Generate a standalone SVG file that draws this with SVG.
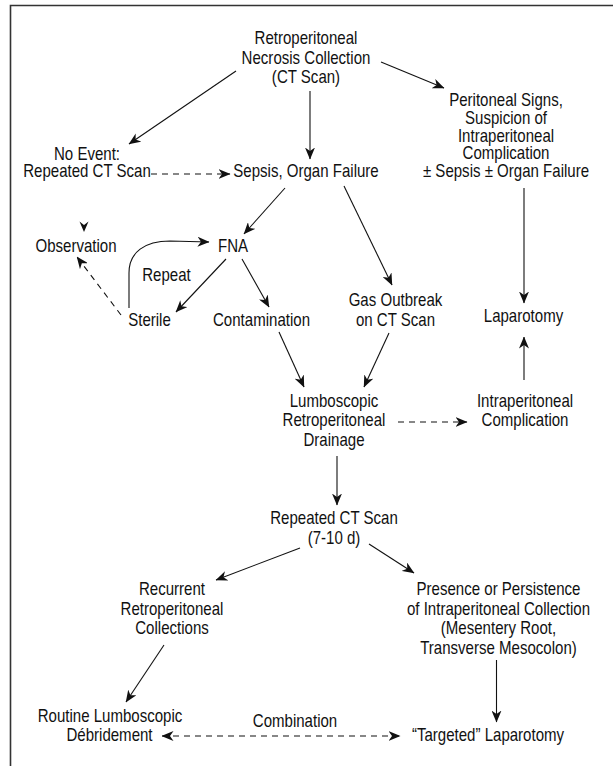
<svg xmlns="http://www.w3.org/2000/svg" width="613" height="766" viewBox="0 0 613 766">
<defs>
<style>
text{font-family:"Liberation Sans",Arial,sans-serif;font-size:17.5px;fill:#111;text-anchor:middle}
.c{fill:none;stroke:#111;stroke-width:1.1}
.a{marker-end:url(#ah)}
.d{stroke-dasharray:6 5}
.frame{fill:none;stroke:#333;stroke-width:1.6}
</style>
<marker id="ah" viewBox="0 0 12 10" refX="11.5" refY="5" markerWidth="12" markerHeight="10" markerUnits="userSpaceOnUse" orient="auto-start-reverse">
<path d="M0,0 L12,5 L0,10 L3.5,5 z" fill="#111"/>
</marker>
</defs>
<path class="frame" d="M10.5,766 V5.5 H613"/>
<g id="connectors">
<line class="c a" x1="236" y1="71" x2="129" y2="144"/>
<line class="c a" x1="310" y1="91" x2="310" y2="159"/>
<line class="c a" x1="381" y1="62" x2="444" y2="88"/>
<line class="c a d" x1="151" y1="174" x2="230" y2="174"/>
<line class="c a" x1="285" y1="188" x2="244" y2="234"/>
<line class="c a" x1="344" y1="186" x2="392" y2="285"/>
<line class="c a" x1="524" y1="188" x2="524" y2="303"/>
<polygon points="84,232 79.5,221.5 84,225 88.5,221.5" fill="#111"/>
<path class="c a" d="M129,308 V273 C129,252 145,241 170,241 L209,242"/>
<line class="c a d" x1="121" y1="315" x2="77" y2="257"/>
<line class="c a" x1="226" y1="259" x2="176" y2="312"/>
<line class="c a" x1="242" y1="259" x2="269" y2="307"/>
<line class="c a" x1="524" y1="380" x2="524" y2="337"/>
<line class="c a" x1="279" y1="332" x2="304" y2="387"/>
<line class="c a" x1="389" y1="333" x2="364" y2="387"/>
<line class="c a d" x1="398" y1="422" x2="467" y2="422"/>
<line class="c a" x1="337" y1="456" x2="337" y2="505"/>
<line class="c a" x1="300" y1="548" x2="216" y2="580"/>
<line class="c a" x1="369" y1="544" x2="414" y2="573"/>
<line class="c a" x1="164" y1="645" x2="126" y2="702"/>
<line class="c a" x1="496.5" y1="660" x2="496.5" y2="722"/>
<line class="c a d" x1="162" y1="736" x2="400" y2="736" style="marker-start:url(#ah)"/>
</g>
<g id="n-top"><text transform="translate(306 44) scale(.86 1)">Retroperitoneal</text><text transform="translate(306 63.5) scale(.86 1)">Necrosis Collection</text><text transform="translate(306 83) scale(.86 1)">(CT Scan)</text></g>
<g id="n-noevent"><text transform="translate(87 159.5) scale(.86 1)">No Event:</text><text transform="translate(87 177) scale(.86 1)">Repeated CT Scan</text></g>
<g id="n-sepsis"><text transform="translate(306 177) scale(.86 1)">Sepsis, Organ Failure</text></g>
<g id="n-peritoneal"><text transform="translate(506 106) scale(.86 1)">Peritoneal Signs,</text><text transform="translate(506 123.5) scale(.86 1)">Suspicion of</text><text transform="translate(506 141.5) scale(.86 1)">Intraperitoneal</text><text transform="translate(506 159) scale(.86 1)">Complication</text><text transform="translate(506 177) scale(.86 1)">± Sepsis ± Organ Failure</text></g>
<g id="n-observation"><text transform="translate(76 252) scale(.86 1)">Observation</text></g>
<g id="n-fna"><text transform="translate(233 252) scale(.86 1)">FNA</text></g>
<g id="n-repeat"><text transform="translate(166.5 281) scale(.86 1)">Repeat</text></g>
<g id="n-sterile"><text transform="translate(149.5 326) scale(.86 1)">Sterile</text></g>
<g id="n-contamination"><text transform="translate(261.5 326) scale(.86 1)">Contamination</text></g>
<g id="n-gas"><text transform="translate(395.5 306) scale(.86 1)">Gas Outbreak</text><text transform="translate(395.5 326) scale(.86 1)">on CT Scan</text></g>
<g id="n-laparotomy"><text transform="translate(523.5 322) scale(.86 1)">Laparotomy</text></g>
<g id="n-lumbo"><text transform="translate(334 406.5) scale(.86 1)">Lumboscopic</text><text transform="translate(334 426) scale(.86 1)">Retroperitoneal</text><text transform="translate(334 445.5) scale(.86 1)">Drainage</text></g>
<g id="n-intracomp"><text transform="translate(525 406.5) scale(.86 1)">Intraperitoneal</text><text transform="translate(525 426) scale(.86 1)">Complication</text></g>
<g id="n-repeatct"><text transform="translate(334 524) scale(.86 1)">Repeated CT Scan</text><text transform="translate(334 544) scale(.86 1)">(7-10 d)</text></g>
<g id="n-recurrent"><text transform="translate(172 595) scale(.86 1)">Recurrent</text><text transform="translate(172 614.5) scale(.86 1)">Retroperitoneal</text><text transform="translate(172 634) scale(.86 1)">Collections</text></g>
<g id="n-presence"><text transform="translate(498.5 595) scale(.86 1)">Presence or Persistence</text><text transform="translate(498.5 614.5) scale(.86 1)">of Intraperitoneal Collection</text><text transform="translate(498.5 634) scale(.86 1)">(Mesentery Root,</text><text transform="translate(498.5 653.5) scale(.86 1)">Transverse Mesocolon)</text></g>
<g id="n-routine"><text transform="translate(110 722) scale(.86 1)">Routine Lumboscopic</text><text transform="translate(109.5 741) scale(.86 1)">Débridement</text></g>
<g id="n-combination"><text transform="translate(295 727) scale(.86 1)">Combination</text></g>
<g id="n-targeted"><text transform="translate(488 741) scale(.86 1)">“Targeted” Laparotomy</text></g>
</svg>
